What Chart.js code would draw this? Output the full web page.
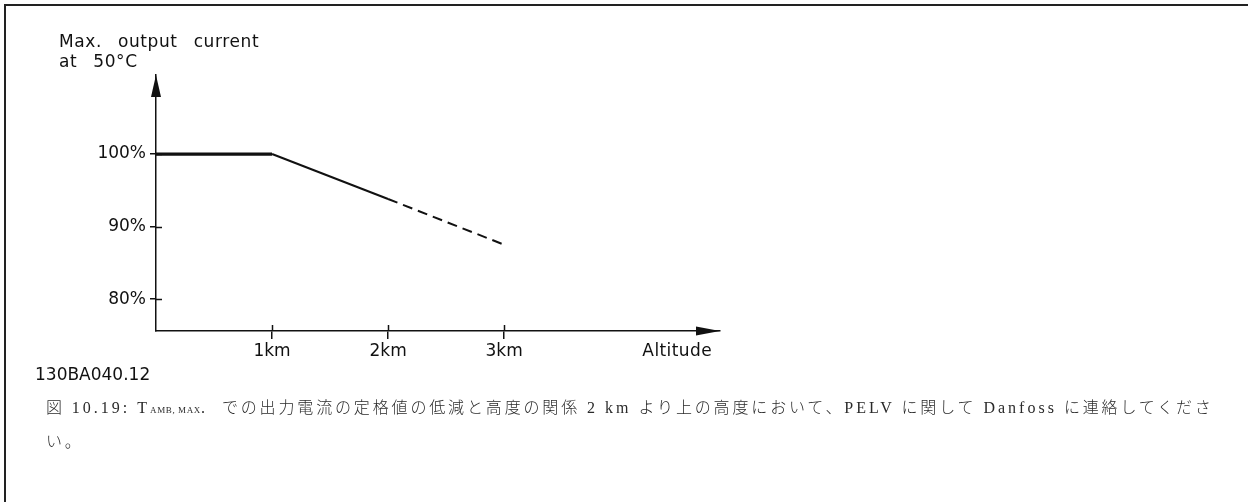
<!DOCTYPE html>
<html>
<head>
<meta charset="utf-8">
<script src="https://cdn.jsdelivr.net/npm/chart.js@4"></script>
<style>
  html, body { margin: 0; padding: 0; background: #fff; }
  #wrap { position: relative; width: 1248px; height: 502px; overflow: hidden; }
  #frame { position: absolute; left: 4px; top: 4px; width: 1260px; height: 520px;
           border-left: 2px solid #222; border-top: 2px solid #222; }
  canvas { position: absolute; left: 0; top: 0; }
  .caption { position: absolute; left: 46px; font-size: 16px; color: #2a2a2a;
             white-space: nowrap; line-height: 22px; }
  .j { font-family: "Noto Sans CJK JP", sans-serif; letter-spacing: 2.85px; font-weight: 300; }
  .l { font-family: "Liberation Serif", serif; letter-spacing: 3px; white-space: pre; }
  .sub { font-family: "Liberation Serif", serif; font-size: 9px; letter-spacing: 0.6px; }
</style>
</head>
<body>
<div id="wrap">
  <div id="frame"></div>
  <canvas id="c" width="1248" height="502"></canvas>
  <div class="caption" style="top:395px"><span class="j">図</span><span class="l"> 10.19: T</span><span class="sub">AMB, MAX</span><span class="l">.  </span><span class="j">での出力電流の定格値の低減と高度の関係</span><span class="l"> 2 km </span><span class="j">より上の高度において、</span><span class="l">PELV </span><span class="j">に関して</span><span class="l"> Danfoss </span><span class="j">に連絡してくださ</span></div>
  <div class="caption" style="top:429px"><span class="j">い。</span></div>
</div>
<script>
// Derating curve: altitude (km) vs. max. output current (%)
const altitudeKm = [0, 1, 2, 3];
const outputPct = [100, 100, 93.8, 87.5];
const yTickValues = [80, 90, 100];
const xTickValues = [1, 2, 3];
const yTitleLines = ['Max. output current', 'at 50°C'];
const xTitle = 'Altitude';
const drawingCode = '130BA040.12';

const FONT = '"DejaVu Sans", sans-serif';
const INK = '#111';

// Arrowheads, inner halves of the ticks and free text
const decorations = {
  id: 'decorations',
  afterDraw(chart) {
    const { ctx, chartArea: a, scales: { x, y } } = chart;
    ctx.save();
    ctx.fillStyle = INK;
    ctx.strokeStyle = INK;
    ctx.lineWidth = 1.5;
    // inner halves of tick marks
    yTickValues.forEach(v => {
      const py = Math.round(y.getPixelForValue(v)) + 0.5;
      ctx.beginPath(); ctx.moveTo(a.left, py); ctx.lineTo(a.left + 6, py); ctx.stroke();
    });
    xTickValues.forEach(v => {
      const px = Math.round(x.getPixelForValue(v)) + 0.5;
      ctx.beginPath(); ctx.moveTo(px, a.bottom); ctx.lineTo(px, a.bottom - 6); ctx.stroke();
    });
    // arrowhead on the y axis
    ctx.beginPath();
    ctx.moveTo(a.left, a.top);
    ctx.lineTo(a.left - 5, a.top + 22);
    ctx.lineTo(a.left + 5, a.top + 22);
    ctx.closePath(); ctx.fill();
    // arrowhead on the x axis
    ctx.beginPath();
    ctx.moveTo(a.right, a.bottom);
    ctx.lineTo(a.right - 24, a.bottom - 4.5);
    ctx.lineTo(a.right - 24, a.bottom + 4.5);
    ctx.closePath(); ctx.fill();
    // axis titles
    ctx.font = '17px ' + FONT;
    ctx.textBaseline = 'middle';
    ctx.textAlign = 'left';
    ctx.letterSpacing = '0.6px';
    ctx.wordSpacing = '10px';
    ctx.fillText(yTitleLines[0], 59, 43);
    ctx.fillText(yTitleLines[1], 59, 63);
    ctx.letterSpacing = '0.4px';
    ctx.wordSpacing = '0px';
    ctx.textAlign = 'right';
    ctx.fillText(xTitle, 712, 352);
    ctx.textAlign = 'left';
    ctx.letterSpacing = '0px';
    ctx.fillText(drawingCode, 35, 376);
    ctx.restore();
  }
};

new Chart(document.getElementById('c'), {
  type: 'line',
  data: {
    datasets: [{
      data: altitudeKm.map((k, i) => ({ x: k, y: outputPct[i] })),
      borderColor: INK,
      borderWidth: 2,
      pointRadius: 0,
      tension: 0,
      fill: false,
      segment: {
        borderWidth: c => c.p0DataIndex === 0 ? 3.2 : 2,
        borderDash: c => c.p0DataIndex >= 2 ? [10, 6] : undefined
      }
    }]
  },
  options: {
    responsive: false,
    animation: false,
    clip: false,
    layout: { padding: { left: 96, top: 75, right: 528, bottom: 141 } },
    plugins: { legend: { display: false }, tooltip: { enabled: false } },
    scales: {
      x: {
        type: 'linear',
        min: 0,
        max: 4.86,
        afterFit: s => { s.height = 30; },
        afterBuildTicks: s => { s.ticks = xTickValues.map(v => ({ value: v })); },
        ticks: { callback: v => v + 'km', font: { family: FONT, size: 17 }, color: INK, padding: 2, maxRotation: 0 },
        grid: { drawOnChartArea: false, drawTicks: true, tickLength: 8, color: INK, lineWidth: 1.5 },
        border: { display: true, color: INK, width: 1.5 }
      },
      y: {
        type: 'linear',
        min: 75.6,
        max: 110.9,
        afterFit: s => { s.width = 60; },
        afterBuildTicks: s => { s.ticks = yTickValues.map(v => ({ value: v })); },
        ticks: { callback: v => v + '%', font: { family: FONT, size: 17 }, color: INK, padding: 4 },
        grid: { drawOnChartArea: false, drawTicks: true, tickLength: 6, color: INK, lineWidth: 1.5 },
        border: { display: true, color: INK, width: 1.5 }
      }
    }
  },
  plugins: [decorations]
});
</script>
</body>
</html>
